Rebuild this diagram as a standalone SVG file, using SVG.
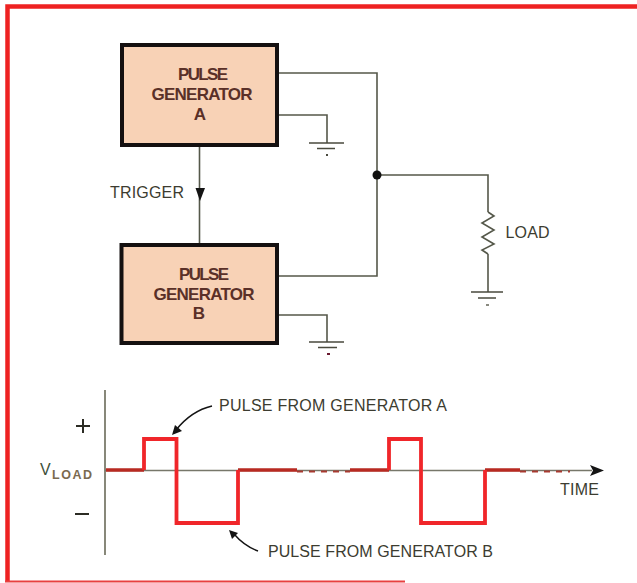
<svg xmlns="http://www.w3.org/2000/svg" width="637" height="583" viewBox="0 0 637 583">
<style>
.box{fill:#f8d2b6;stroke:#141010;stroke-width:4}
.w{fill:none;stroke:#55584a;stroke-width:1.6}
.g{fill:none;stroke:#4a4a3e;stroke-width:1.6}
.t{font-family:"Liberation Sans Narrow","Liberation Sans",Arial,sans-serif;font-size:16px;fill:#3c3c30}
.b{font-family:"Liberation Sans Narrow","Liberation Sans",Arial,sans-serif;font-size:17px;font-weight:700;fill:#5a3028;text-anchor:middle}
.r{fill:none;stroke:#f0262a;stroke-width:3.8;stroke-linejoin:miter}
.d{fill:none;stroke:#b82a22;stroke-width:3.4}
</style>
<rect width="637" height="583" fill="#fff"/>
<path d="M7.500 581V6.500H637" fill="none" stroke="#ee2222" stroke-width="4.500"/>
<path d="M5 581.500H405" fill="none" stroke="#e84040" stroke-width="2"/>
<g id="connectors">
<path class="w" d="M279 73H377V276H279"/>
<path class="w" d="M377 175H488V212M488 254V292"/>
<path class="w" d="M488 212L494 216L482 223L494 230L482 237L494 244L482 250L488 254"/>
<path class="w" d="M279 115H327V143"/>
<path class="w" d="M279 315H327V342"/>
<path class="w" d="M199.500 146V243"/>
<path d="M195.500 188H205L200 201Z" fill="#141414"/>
<circle cx="377" cy="175" r="4.500" fill="#111"/>
</g>
<g id="ground-a">
<path class="g" d="M309 143H344M317 148.500H335"/><rect x="326" y="154" width="2" height="2" fill="#4a4a3e"/>
</g>
<g id="ground-b">
<path class="g" d="M309 342H344M318 347.500H337"/><rect x="327" y="353" width="3" height="2" fill="#6a1a30"/>
</g>
<g id="ground-load">
<path class="g" d="M471 292H503M478 298H496"/><rect x="486" y="304" width="3" height="2" fill="#8a8a80"/>
</g>
<g id="generator-a">
<rect class="box" x="122" y="45" width="155" height="100"/>
<text class="b" x="203" y="80" textLength="50" lengthAdjust="spacing">PULSE</text>
<text class="b" x="202" y="100" textLength="101" lengthAdjust="spacing">GENERATOR</text>
<text class="b" x="200" y="120">A</text>
</g>
<g id="generator-b">
<rect class="box" x="121.500" y="245" width="155.500" height="98"/>
<text class="b" x="204" y="280" textLength="50" lengthAdjust="spacing">PULSE</text>
<text class="b" x="204" y="300" textLength="101" lengthAdjust="spacing">GENERATOR</text>
<text class="b" x="199" y="319">B</text>
</g>
<text class="t" x="110" y="198" textLength="74" lengthAdjust="spacing">TRIGGER</text>
<text class="t" x="505.500" y="238" textLength="44" lengthAdjust="spacing">LOAD</text>
<g id="chart">
<path d="M105 390V555" fill="none" stroke="#6a6a58" stroke-width="1.600"/>
<path d="M105 470.500H592" fill="none" stroke="#77776a" stroke-width="1.600"/>
<path d="M590 465L604 470.500L590 476L593 470.500Z" fill="#141414"/>
<path class="d" d="M106 470H144M238 470H297M350 470H389M485 470H520"/>
<path d="M297 471.500H350M520 471.500H570" fill="none" stroke="#a83a30" stroke-width="2" stroke-dasharray="6 6"/>
<path class="r" d="M144 470V439H176.500V523H238V470"/>
<path class="r" d="M389 470V439H421V523H485V470"/>
<path d="M76 426H90M83 419V433" fill="none" stroke="#2c2c24" stroke-width="2"/>
<path d="M75 514H89" fill="none" stroke="#2c2c24" stroke-width="2"/>
<text x="40" y="475" style="font-family:'Liberation Sans',Arial,sans-serif;font-size:16px;fill:#40503a">V</text>
<text x="52" y="479" textLength="40" lengthAdjust="spacing" style="font-family:'Liberation Sans',Arial,sans-serif;font-size:12.500px;font-weight:700;fill:#7a6a50">LOAD</text>
<text class="t" x="219" y="411" textLength="228" lengthAdjust="spacing">PULSE FROM GENERATOR A</text>
<text class="t" x="268" y="557" textLength="225" lengthAdjust="spacing">PULSE FROM GENERATOR B</text>
<text class="t" x="560" y="495" textLength="39" lengthAdjust="spacing">TIME</text>
<path d="M212 406C195 410 184 420 176 430" fill="none" stroke="#141414" stroke-width="1.500"/>
<path d="M172 435L175 425L182 431Z" fill="#141414"/>
<path d="M258 551C247 547 240 541 234 534" fill="none" stroke="#141414" stroke-width="1.500"/>
<path d="M229 530L238 533L232 539Z" fill="#141414"/>
</g>
</svg>
